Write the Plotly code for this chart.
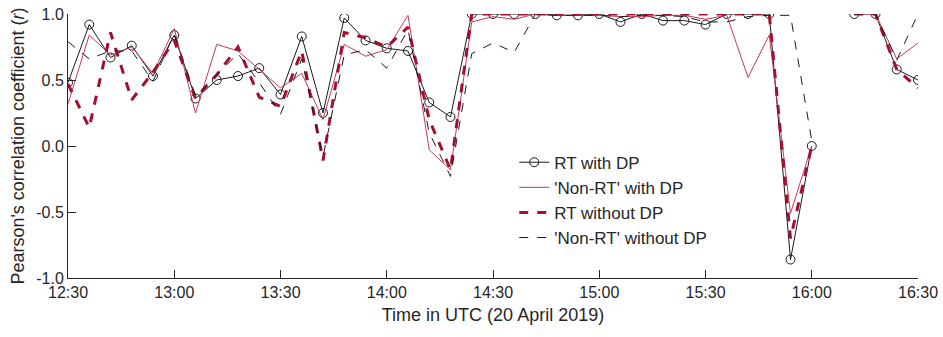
import plotly.graph_objects as go
import pandas as pd

times = ["12:30","12:36","12:42","12:48","12:54","13:00","13:06","13:12","13:18","13:24",
         "13:30","13:36","13:42","13:48","13:54","14:00","14:06","14:12","14:18","14:24",
         "14:30","14:36","14:42","14:48","14:54","15:00","15:06","15:12","15:18","15:24",
         "15:30","15:36","15:42","15:48","15:54","16:00","16:06","16:12","16:18","16:24","16:30"]

rt_dp = [0.48, 0.92, 0.67, 0.76, 0.53, 0.84, 0.36, 0.50, 0.53, 0.59,
         0.39, 0.83, 0.25, 0.97, 0.80, 0.74, 0.72, 0.33, 0.22, 1.00,
         1.00, 1.00, 1.00, 0.99, 0.99, 1.00, 0.94, 1.00, 0.95, 0.95,
         0.92, 1.00, 1.00, 1.00, -0.86, 0.00, None, 1.00, 1.00, 0.58, 0.50]

nonrt_dp = [0.32, 0.84, 0.69, 0.75, 0.55, 0.89, 0.25, 0.77, 0.72, 0.58,
            0.44, 0.55, 0.20, 0.77, 0.68, 0.73, 0.99, -0.03, -0.18, 0.94,
            0.98, 0.96, 1.00, 0.99, 0.99, 0.99, 0.98, 0.98, 0.99, 0.99,
            0.96, 0.99, 0.52, 0.84, -0.51, 0.00, None, 1.00, 1.00, 0.66, 0.78]

rt_nodp = [0.47, 0.14, 0.86, 0.35, 0.56, 0.80, 0.36, 0.54, 0.75, 0.37,
           0.30, 0.72, -0.11, 0.86, 0.82, 0.75, 0.90, 0.20, -0.18, 1.00,
           1.00, 1.00, 1.00, 1.00, 1.00, 1.00, 1.00, 1.00, 1.00, 1.00,
           1.00, 1.00, 1.00, 1.00, -0.70, 0.00, None, 1.00, 1.00, 0.58, 0.44]

nonrt_nodp = [0.79, 0.66, 0.72, 0.72, 0.49, 0.85, 0.38, 0.54, 0.70, 0.48,
              0.24, 0.66, -0.08, 0.69, 0.73, 0.59, 0.88, 0.10, -0.23, 0.70,
              0.78, 0.71, 1.00, 0.99, 0.99, 0.99, 0.98, 0.99, 0.99, 0.98,
              0.94, 0.94, 0.98, 0.99, 0.99, 0.04, None, 1.00, 1.00, 0.65, 1.00]

y_ticks = [-1.0, -0.5, 0.0, 0.5, 1.0]
y_ticktext = ["-1.0", "-0.5", "0.0", "0.5", "1.0"]

x = pd.to_datetime(["2019-04-20 " + t for t in times])

fig = go.Figure()
fig.add_trace(go.Scatter(x=x, y=rt_dp, name="RT with DP", mode="lines+markers",
                         line=dict(color="#1a1a1a", width=1),
                         marker=dict(symbol="circle-open", size=9, color="#1a1a1a", line=dict(width=1)),
                         legendgroup="a", connectgaps=False))
fig.add_trace(go.Scatter(x=x, y=nonrt_dp, name="'Non-RT' with DP", mode="lines",
                         line=dict(color="#c83a56", width=1),
                         legendgroup="b", connectgaps=False))
fig.add_trace(go.Scatter(x=x, y=rt_nodp, name="RT without DP", mode="lines",
                         line=dict(color="#a3102f", width=3, dash="dash"),
                         legendgroup="c", connectgaps=False))
fig.add_trace(go.Scatter(x=x, y=nonrt_nodp, name="'Non-RT' without DP", mode="lines",
                         line=dict(color="#1a1a1a", width=1, dash="dash"),
                         legendgroup="d", connectgaps=False))

axis_col = "#262626"
fig.update_layout(
    width=943, height=337,
    margin=dict(l=68, r=25, t=14, b=59),
    paper_bgcolor="white", plot_bgcolor="white",
    font=dict(family="Liberation Sans, Arial, sans-serif", size=16, color=axis_col),
    showlegend=True,
    legend=dict(x=0.525, y=0.505, xanchor="left", yanchor="top",
                bgcolor="rgba(0,0,0,0)", font=dict(size=17, color=axis_col),
                tracegroupgap=0, traceorder="grouped"),
    xaxis=dict(range=[pd.Timestamp("2019-04-20 12:30"), pd.Timestamp("2019-04-20 16:30")],
               tickformat="%H:%M", dtick=1800000,
               tick0=pd.Timestamp("2019-04-20 12:30"),
               automargin=False,
               showgrid=False, zeroline=False, showline=True, linecolor=axis_col, linewidth=1,
               ticks="inside", ticklen=8, tickcolor=axis_col,
               tickfont=dict(size=16, color=axis_col),
               title=dict(text="Time in UTC (20 April 2019)", font=dict(size=18, color=axis_col), standoff=8)),
    yaxis=dict(range=[-1.0, 1.0], tickvals=y_ticks, ticktext=y_ticktext,
               automargin=False,
               showgrid=False, zeroline=False, showline=True, linecolor=axis_col, linewidth=1,
               ticks="inside", ticklen=8, tickcolor=axis_col,
               tickfont=dict(size=16, color=axis_col),
               title=dict(text="Pearson's correlation coefficient (<i>r</i>)", font=dict(size=18, color=axis_col), standoff=6)),
)

fig.write_html("out.html")
